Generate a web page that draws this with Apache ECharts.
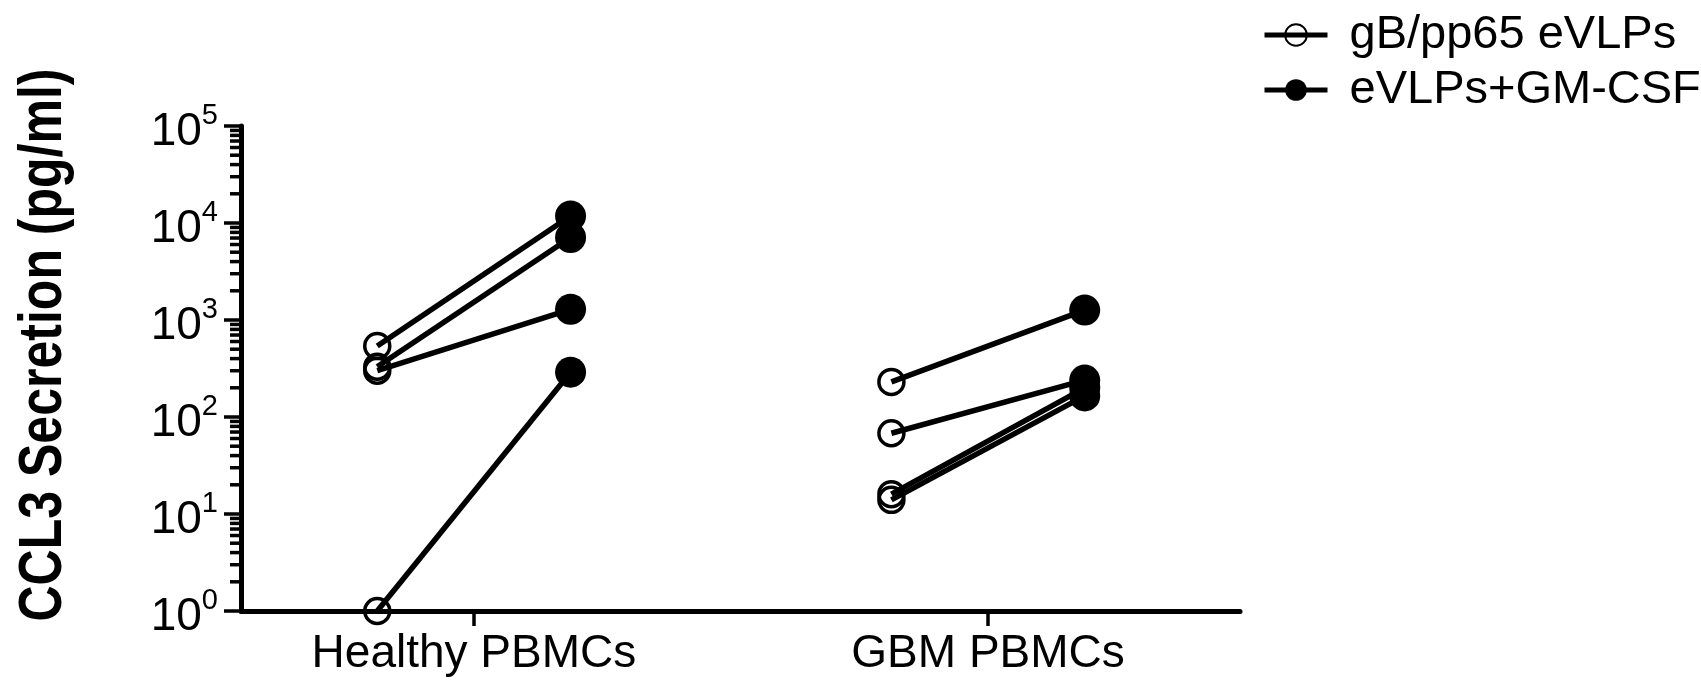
<!DOCTYPE html>
<html>
<head>
<meta charset="utf-8">
<script src="https://cdn.jsdelivr.net/npm/echarts@6/dist/echarts.min.js"></script>
<style>
html,body{margin:0;padding:0;background:#fff;}
#chart{width:1701px;height:686px;}
</style>
</head>
<body>
<div id="chart"></div>
<script>
// ---- data ----
const groups = ['Healthy PBMCs', 'GBM PBMCs'];
const seriesNames = ['gB/pp65 eVLPs', 'eVLPs+GM-CSF'];
const healthyPre  = [540, 330, 300, 1];
const healthyPost = [11800, 7100, 1290, 290];
const gbmPre  = [230, 68, 16, 14];
const gbmPost = [1265, 240, 200, 165];
const yTickExponents = [0, 1, 2, 3, 4, 5];
const yTitle = 'CCL3 Secretion (pg/ml)';

// ---- layout constants ----
const pairOffset = 0.188;
const font = 'Liberation Sans, Arial, sans-serif';

const pre = [healthyPre, gbmPre];
const post = [healthyPost, gbmPost];

// minor tick values 2..9 x 10^k
const minorVals = [];
for (let k = 0; k < yTickExponents.length - 1; k++) {
  for (let m = 2; m <= 9; m++) minorVals.push(m * Math.pow(10, yTickExponents[k]));
}

const series = [];
groups.forEach((g, gi) => {
  pre[gi].forEach((v, i) => {
    series.push({
      type: 'line', silent: true, symbol: 'none', z: 2,
      lineStyle: {color: '#000', width: 5.5},
      data: [[gi - pairOffset, v], [gi + pairOffset, post[gi][i]]]
    });
  });
});
const preData = [], postData = [];
groups.forEach((g, gi) => {
  pre[gi].forEach(v => preData.push([gi - pairOffset, v]));
  post[gi].forEach(v => postData.push([gi + pairOffset, v]));
});
series.push({
  name: seriesNames[0], type: 'line', z: 4, symbol: 'circle', symbolSize: 25,
  lineStyle: {width: 0, opacity: 0},
  itemStyle: {color: 'rgba(255,255,255,0)', borderColor: '#000', borderWidth: 3.5},
  data: preData
});
series.push({
  name: seriesNames[1], type: 'line', z: 4, symbol: 'circle', symbolSize: 31,
  lineStyle: {width: 0, opacity: 0},
  itemStyle: {color: '#000', borderColor: '#000', borderWidth: 0},
  data: postData
});
// minor ticks on the log axis
series.push({
  type: 'custom', silent: true, clip: false, z: 5,
  data: minorVals.map(v => [0, v]),
  renderItem: function (params, api) {
    const y = api.coord([0, api.value(1)])[1];
    const x0 = params.coordSys.x;
    return {type: 'line', shape: {x1: x0 - 11, y1: y, x2: x0, y2: y},
            style: {stroke: '#000', lineWidth: 3.5}};
  }
});

const chart = echarts.init(document.getElementById('chart'), null, {renderer: 'canvas'});
chart.setOption({
  backgroundColor: '#fff',
  animation: false,
  textStyle: {fontFamily: font, color: '#000'},
  legend: {
    orient: 'vertical', left: 1257, top: 6,
    data: seriesNames,
    itemWidth: 63, itemHeight: 27, itemGap: 7,
    lineStyle: {color: '#000', width: 5, opacity: 1},
    textStyle: {fontSize: 47, color: '#000', fontFamily: font, padding: [0, 0, 0, 17], lineHeight: 48}
  },
  graphic: [{
    type: 'text', x: 44, y: 345, rotation: Math.PI / 2, scaleX: 0.82,
    style: {text: yTitle, fontSize: 61, fontWeight: 'bold', fontFamily: font, fill: '#000',
            align: 'center', verticalAlign: 'middle'}
  }],
  grid: {left: 241, right: 461, top: 126, bottom: 75, containLabel: false},
  xAxis: {
    type: 'value', min: -0.453, max: 1.490,
    splitLine: {show: false},
    axisLine: {onZero: false, lineStyle: {color: '#000', width: 5}},
    axisTick: {show: true, customValues: [0, 1], length: 15, lineStyle: {color: '#000', width: 3.5}},
    axisLabel: {customValues: [0, 1], margin: 20, fontSize: 46, color: '#000', fontFamily: font,
      formatter: v => groups[Math.round(v)]}
  },
  yAxis: {
    type: 'log', logBase: 10, min: 1, max: 100000,
    splitLine: {show: false},
    axisLine: {show: true, onZero: false, lineStyle: {color: '#000', width: 5}},
    axisTick: {show: true, length: 17, lineStyle: {color: '#000', width: 3.5}},
    axisLabel: {
      margin: 23, color: '#000', fontFamily: font,
      formatter: v => '{b|10}{s|' + Math.round(Math.log10(v)) + '}',
      rich: {
        b: {fontSize: 46, fontFamily: font, color: '#000', lineHeight: 48, padding: [12, 0, 0, 0]},
        s: {fontSize: 29, fontFamily: font, color: '#000', verticalAlign: 'top', padding: [0, 0, 20, 0]}
      }
    }
  },
  series: series
});
</script>
</body>
</html>
